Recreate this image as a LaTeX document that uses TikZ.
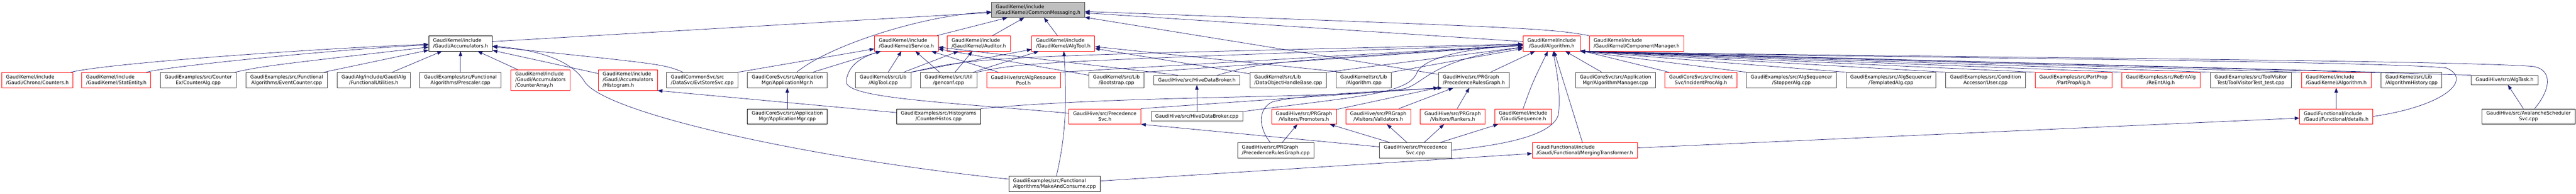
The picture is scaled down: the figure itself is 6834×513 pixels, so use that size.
\documentclass[tikz,border=0pt]{standalone}
\usepackage{fontspec}
\setmainfont{DejaVu Sans}
\usetikzlibrary{arrows.meta}
\definecolor{edgeblue}{HTML}{191970}
\definecolor{rootgray}{HTML}{BFBFBF}
\definecolor{undocgray}{HTML}{404040}
\definecolor{truncred}{HTML}{FF0000}
\newcommand{\graphfont}{\fontsize{9.6pt}{11.25pt}\selectfont}
\tikzstyle{incl} = [draw=edgeblue, line width=0.75pt, -{Triangle[length=9.5pt, width=7pt]}]
\tikzstyle{filebox} = [
    rectangle, draw=black, fill=white, line width=0.75pt,
    inner xsep=8.6pt, inner ysep=1pt, minimum height=30.4pt,
    align=center, font=\graphfont
]
\tikzstyle{filebox_grey} = [filebox, draw=undocgray]
\tikzstyle{filebox_red} = [filebox, draw=truncred]
\tikzstyle{filebox_root} = [filebox, draw=undocgray, fill=rootgray]
\tikzstyle{oneline} = [minimum height=18.75pt]
\tikzstyle{threeline} = [minimum height=41.25pt]

\begin{document}
\begin{tikzpicture}[x=0.75pt, y=-0.75pt]
\path [use as bounding box, fill=white] (0,0) rectangle (6834,513);

% Included file
\node (cm) [filebox_root, align=left] at (2754,26) {GaudiKernel/include\\/GaudiKernel/CommonMessaging.h};

% First level
\node (accumulators) [filebox, align=left] at (1221.8,115) {GaudiKernel/include\\/Gaudi/Accumulators.h};
\node (service) [filebox_red, align=left] at (2404.5,115) {GaudiKernel/include\\/GaudiKernel/Service.h};
\node (auditor) [filebox_red, align=left] at (2596.6,115) {GaudiKernel/include\\/GaudiKernel/Auditor.h};
\node (algtoolh) [filebox_red, align=left] at (2820.8,115) {GaudiKernel/include\\/GaudiKernel/AlgTool.h};
\node (galgorithmh) [filebox_red] at (4116.5,115) {GaudiKernel/include\\/Gaudi/Algorithm.h};
\node (compmgr) [filebox_red, align=left] at (4341.8,115) {GaudiKernel/include\\/GaudiKernel/ComponentManager.h};

% Second level
\node (counters) [filebox_red, align=left] at (99,212) {GaudiKernel/include\\/Gaudi/Chrono/Counters.h};
\node (statentity) [filebox_red, align=left] at (308.6,212) {GaudiKernel/include\\/GaudiKernel/StatEntity.h};
\node (counteralg) [filebox_grey] at (525.8,212) {GaudiExamples/src/Counter\\Ex/CounterAlg.cpp};
\node (eventcounter) [filebox_grey] at (760.5,212) {GaudiExamples/src/Functional\\Algorithms/EventCounter.cpp};
\node (funcutils) [filebox_grey] at (991.4,212) {GaudiAlg/include/GaudiAlg\\/FunctionalUtilities.h};
\node (prescaler) [filebox_grey] at (1221.5,212) {GaudiExamples/src/Functional\\Algorithms/Prescaler.cpp};
\node (counterarray) [filebox_red, threeline, align=left] at (1433.9,212) {GaudiKernel/include\\/Gaudi/Accumulators\\/CounterArray.h};
\node (histogram) [filebox_red, threeline, align=left] at (1665.8,212) {GaudiKernel/include\\/Gaudi/Accumulators\\/Histogram.h};
\node (evtstoresvc) [filebox_grey, align=left] at (1863.1,212) {GaudiCommonSvc/src\\/DataSvc/EvtStoreSvc.cpp};
\node (appmgrh) [filebox_grey] at (2088.6,212) {GaudiCoreSvc/src/Application\\Mgr/ApplicationMgr.h};
\node (algtoolcpp) [filebox_grey] at (2343.1,212) {GaudiKernel/src/Lib\\/AlgTool.cpp};
\node (genconf) [filebox_grey] at (2516.5,212) {GaudiKernel/src/Util\\/genconf.cpp};
\node (algrespool) [filebox_red] at (2715,212) {GaudiHive/src/AlgResource\\Pool.h};
\node (bootstrap) [filebox_grey] at (2961.9,212) {GaudiKernel/src/Lib\\/Bootstrap.cpp};
\node (hivebrokerh) [filebox_grey, oneline] at (3175.2,212) {GaudiHive/src/HiveDataBroker.h};
\node (dohandle) [filebox_grey, align=left] at (3417.6,212) {GaudiKernel/src/Lib\\/DataObjectHandleBase.cpp};
\node (algorithmcpp) [filebox_grey] at (3617.9,212) {GaudiKernel/src/Lib\\/Algorithm.cpp};
\node (prgraphh) [filebox_grey, align=left] at (3910.1,212) {GaudiHive/src/PRGraph\\/PrecedenceRulesGraph.h};
\node (algmgrcpp) [filebox_grey] at (4285.7,212) {GaudiCoreSvc/src/Application\\Mgr/AlgorithmManager.cpp};
\node (incidentproc) [filebox_red] at (4512.5,212) {GaudiCoreSvc/src/Incident\\Svc/IncidentProcAlg.h};
\node (stopperalg) [filebox_grey] at (4752.5,212) {GaudiExamples/src/AlgSequencer\\/StopperAlg.cpp};
\node (templatedalg) [filebox_grey] at (5016.5,212) {GaudiExamples/src/AlgSequencer\\/TemplatedAlg.cpp};
\node (usercpp) [filebox_grey] at (5267.4,212) {GaudiExamples/src/Condition\\Accessor/User.cpp};
\node (partpropalg) [filebox_red] at (5500.5,212) {GaudiExamples/src/PartProp\\/PartPropAlg.h};
\node (reentalg) [filebox_red] at (5732.5,212) {GaudiExamples/src/ReEntAlg\\/ReEntAlg.h};
\node (toolvisitor) [filebox_grey] at (5971.1,212) {GaudiExamples/src/ToolVisitor\\Test/ToolVisitorTest\_test.cpp};
\node (gkalgorithmh) [filebox_red, align=left] at (6197.8,212) {GaudiKernel/include\\/GaudiKernel/Algorithm.h};
\node (alghistory) [filebox_grey, align=left] at (6397.5,212) {GaudiKernel/src/Lib\\/AlgorithmHistory.cpp};
\node (algtaskh) [filebox_grey, oneline] at (6644.5,212) {GaudiHive/src/AlgTask.h};

% Third level
\node (appmgrcpp) [filebox] at (2088.6,308.5) {GaudiCoreSvc/src/Application\\Mgr/ApplicationMgr.cpp};
\node (counterhistos) [filebox] at (2489.9,308.5) {GaudiExamples/src/Histograms\\/CounterHistos.cpp};
\node (precsvch) [filebox_red] at (2931.2,308.5) {GaudiHive/src/Precedence\\Svc.h};
\node (hivebrokercpp) [filebox_grey, oneline] at (3175.2,308.5) {GaudiHive/src/HiveDataBroker.cpp};
\node (promoters) [filebox_red] at (3459.2,308.5) {GaudiHive/src/PRGraph\\/Visitors/Promoters.h};
\node (validators) [filebox_red] at (3656.5,308.5) {GaudiHive/src/PRGraph\\/Visitors/Validators.h};
\node (rankers) [filebox_red] at (3853.7,308.5) {GaudiHive/src/PRGraph\\/Visitors/Rankers.h};
\node (sequence) [filebox_red] at (4040.7,308.5) {GaudiKernel/include\\/Gaudi/Sequence.h};
\node (details) [filebox_red, align=left] at (6197.8,308.5) {GaudiFunctional/include\\/Gaudi/Functional/details.h};
\node (avalanche) [filebox] at (6708,308.5) {GaudiHive/src/AvalancheScheduler\\Svc.cpp};

% Fourth and fifth level
\node (prgraphcpp) [filebox_grey, align=left] at (3384.5,398) {GaudiHive/src/PRGraph\\/PrecedenceRulesGraph.cpp};
\node (precsvccpp) [filebox_grey] at (3755.3,398) {GaudiHive/src/Precedence\\Svc.cpp};
\node (mergingtr) [filebox_red, align=left] at (4204.5,398) {GaudiFunctional/include\\/Gaudi/Functional/MergingTransformer.h};
\node (makeconsume) [filebox, align=left] at (2797.6,487) {GaudiExamples/src/Functional\\Algorithms/MakeAndConsume.cpp};

% Connections to CommonMessaging.h
\draw [incl] (accumulators) -- (cm);
\draw [incl] (appmgrh) .. controls (2200,120) and (2450,40) .. (cm);
\draw [incl] (service) -- (cm);
\draw [incl] (auditor) -- (cm);
\draw [incl] (algtoolh) -- (cm);
\draw [incl] (galgorithmh) -- (cm);
\draw [incl] (compmgr.north west) .. controls (4100,75) .. (cm);
\draw [incl] (prgraphh) -- (cm);

% Accumulators.h
\draw [incl] (counters) .. controls (300,165) and (900,125) .. (accumulators);
\draw [incl] (statentity) .. controls (450,175) and (900,130) .. (accumulators);
\draw [incl] (counteralg) .. controls (700,175) .. (accumulators);
\draw [incl] (eventcounter) -- (accumulators);
\draw [incl] (funcutils) -- (accumulators);
\draw [incl] (prescaler) -- (accumulators);
\draw [incl] (counterarray) -- (accumulators);
\draw [incl] (histogram) -- (accumulators);
\draw [incl] (evtstoresvc) .. controls (1760,170) .. (accumulators);
\draw [incl] (makeconsume) .. controls (2150,420) and (1600,300) .. (1550,215) .. controls (1510,150) and (1400,130) .. (accumulators);
\draw [incl] (counterhistos) -- (histogram.south east);
\draw [incl] (appmgrcpp) -- (appmgrh);

% Service.h, Auditor.h, AlgTool.h
\draw [incl] (evtstoresvc.north east) -- (service);
\draw [incl] (appmgrh) -- (service);
\draw [incl] (precsvch) .. controls (2500,270) and (2240,260) .. (2245,215) .. controls (2250,170) and (2290,150) .. (service);
\draw [incl] (algtoolcpp) -- (service);
\draw [incl] (genconf) -- (service);
\draw [incl] (algrespool) -- (service);
\draw [incl] (bootstrap) -- (service);
\draw [incl] ([xshift=48pt]hivebrokerh.north west) -- (service);
\draw [incl] (algtoolcpp) -- (auditor);
\draw [incl] (genconf) -- (auditor);
\draw [incl] (algtoolcpp.north east) -- (algtoolh);
\draw [incl] (genconf) -- (algtoolh);
\draw [incl] (makeconsume) .. controls (2830,350) and (2830,250) .. (algtoolh);
\draw [incl] (dohandle) -- (algtoolh);
\draw [incl] ([xshift=13pt]algorithmcpp.north west) -- (algtoolh);

% Gaudi/Algorithm.h
\draw [incl] (algtoolcpp.north east) .. controls (2600,150) .. (galgorithmh);
\draw [incl] (genconf.north east) .. controls (2720,165) .. (galgorithmh);
\draw [incl] (algrespool.north east) -- (galgorithmh);
\draw [incl] (bootstrap.north east) -- (galgorithmh);
\draw [incl] ([xshift=-45pt]hivebrokerh.north east) .. controls (3350,165) .. (galgorithmh);
\draw [incl] (dohandle.north east) -- (galgorithmh);
\draw [incl] (algorithmcpp.north east) -- (galgorithmh);
\draw [incl] (hivebrokercpp.north east) .. controls (3600,255) and (3740,250) .. (3760,190) .. controls (3790,140) and (3950,125) .. (galgorithmh);
\draw [incl] (counterhistos.north east) .. controls (3000,250) and (3600,262) .. (3725,235) .. controls (3780,222) and (3790,160) .. (galgorithmh);
\draw [incl] (prgraphh) -- (galgorithmh);
\draw [incl] (sequence.north) .. controls (4065,220) .. (galgorithmh);
\draw [incl] (precsvccpp.east) .. controls (3980,385) and (4125,360) .. (4135,300) .. controls (4140,240) and (4130,190) .. (galgorithmh);
\draw [incl] (mergingtr) -- (galgorithmh);
\draw [incl] (algmgrcpp) -- (galgorithmh);
\draw [incl] (incidentproc) -- (galgorithmh);
\draw [incl] (stopperalg.north west) -- (galgorithmh.south east);
\draw [incl] (templatedalg.north west) -- (galgorithmh.south east);
\draw [incl] (usercpp.north west) -- (galgorithmh.south east);
\draw [incl] (partpropalg.north west) -- (galgorithmh.south east);
\draw [incl] (reentalg.north west) -- (galgorithmh.south east);
\draw [incl] (toolvisitor.north west) -- (galgorithmh.south east);
\draw [incl] (gkalgorithmh.north west) -- (galgorithmh.south east);
\draw [incl] (alghistory.north west) -- (galgorithmh.south east);
\draw [incl] (algtaskh.north west) -- (galgorithmh.south east);
\draw [incl] (details.east) .. controls (6490,280) and (6560,210) .. (6490,180) .. controls (6300,160) and (4700,150) .. (galgorithmh.south east);
\draw [incl] ([xshift=12pt]avalanche.north) .. controls (6765,240) and (6775,185) .. (6720,176) .. controls (6500,158) and (4700,148) .. (galgorithmh.south east);
\draw [incl] (avalanche) -- (algtaskh);
\draw [incl] (details) -- (gkalgorithmh);

% PrecedenceRulesGraph.h and PrecedenceSvc
\draw [incl] (precsvch.north east) -- (prgraphh.south west);
\draw [incl] ([xshift=-11pt]prgraphcpp.north) .. controls (3340,340) and (3335,290) .. (3375,270) .. controls (3450,250) and (3700,240) .. ([xshift=8pt]prgraphh.south west);
\draw [incl] (promoters) -- (prgraphh);
\draw [incl] (validators) -- (prgraphh);
\draw [incl] (rankers) -- (prgraphh);
\draw [incl] (precsvccpp) -- (precsvch.south east);
\draw [incl] (precsvccpp) -- (promoters);
\draw [incl] (precsvccpp) -- (validators);
\draw [incl] (precsvccpp) -- (rankers);
\draw [incl] (precsvccpp) -- (sequence);
\draw [incl] (prgraphcpp) -- (promoters);
\draw [incl] (hivebrokercpp) -- (hivebrokerh);

% Functional
\draw [incl] (makeconsume) -- (mergingtr);
\draw [incl] (mergingtr) -- (details);

\end{tikzpicture}
\end{document}
